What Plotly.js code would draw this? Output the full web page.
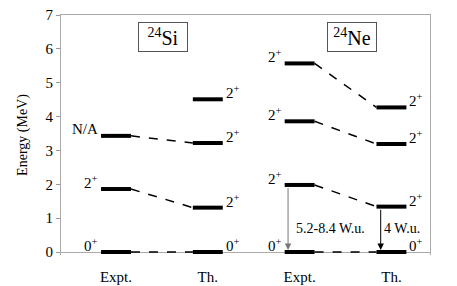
<!DOCTYPE html>
<html><head><meta charset="utf-8">
<script src="https://cdn.plot.ly/plotly-3.0.1.min.js"></script>
<style>body{margin:0;padding:0;background:#fff}#c{width:457px;height:286px}</style>
</head><body><div id="c"></div>
<script>
const columns = ['Expt.', 'Th.', 'Expt.', 'Th.'];
const nuclei = ['<sup>24</sup>Si', '<sup>24</sup>Ne'];
const siExpt = [0, 1.86, 3.43];
const siExptLabels = ['0<sup>+</sup>', '2<sup>+</sup>', 'N/A'];
const siTh = [0, 1.31, 3.22, 4.51];
const siThLabels = ['0<sup>+</sup>', '2<sup>+</sup>', '2<sup>+</sup>', '2<sup>+</sup>'];
const neExpt = [0, 1.98, 3.86, 5.57];
const neExptLabels = ['0<sup>+</sup>', '2<sup>+</sup>', '2<sup>+</sup>', '2<sup>+</sup>'];
const neTh = [0, 1.34, 3.19, 4.27];
const neThLabels = ['0<sup>+</sup>', '2<sup>+</sup>', '2<sup>+</sup>', '2<sup>+</sup>'];
const transitionLabels = ['5.2-8.4 W.u.', '4 W.u.'];

const font = '"Liberation Serif", "Times New Roman", serif';
const hw = 0.163;
const sets = [
  {pos: 1, e: siExpt, lab: siExptLabels, side: 'left'},
  {pos: 2, e: siTh, lab: siThLabels, side: 'right'},
  {pos: 3, e: neExpt, lab: neExptLabels, side: 'left'},
  {pos: 4, e: neTh, lab: neThLabels, side: 'right'}
];

const lx = [], ly = [];
const annotations = [];
sets.forEach(s => {
  s.e.forEach((v, i) => {
    lx.push(s.pos - hw, s.pos + hw, null); ly.push(v, v, null);
    annotations.push({
      x: s.side === 'left' ? s.pos - hw : s.pos + hw, y: v, xref: 'x', yref: 'y',
      text: s.lab[i], showarrow: false,
      xanchor: s.side === 'left' ? 'right' : 'left',
      xshift: s.side === 'left' ? -1 : 1, yshift: 7,
      font: {family: font, size: 15, color: '#000'}
    });
  });
});
// connectors
const cx = [], cy = [];
[[sets[0], sets[1]], [sets[2], sets[3]]].forEach(([a, b]) => {
  const n = Math.min(a.e.length, b.e.length);
  for (let i = 0; i < n; i++) {
    cx.push(a.pos + hw, b.pos - hw, null); cy.push(a.e[i], b.e[i], null);
  }
});

// transitions 2+ -> 0+ in 24Ne
const arrowX = [2.874, 3.883];
const arrowFrom = [neExpt[1], neTh[1]];
const arrowCol = ['#777', '#000'];
arrowX.forEach((x, i) => {
  annotations.push({x: x, y: 0.06, ax: x, ay: arrowFrom[i] - 0.05, xref: 'x', yref: 'y', axref: 'x', ayref: 'y',
    text: '', showarrow: true, arrowhead: 2, arrowsize: 1.3, arrowwidth: 1, arrowcolor: arrowCol[i]});
});
const tlX = [3.331, 4.11];
tlX.forEach((x, i) => {
  annotations.push({x: x, y: 0.68, xref: 'x', yref: 'y', text: transitionLabels[i], showarrow: false,
    font: {family: font, size: 14, color: '#000'}});
});
// nucleus boxes
const boxX = [1.507, 3.57];
nuclei.forEach((t, i) => {
  annotations.push({x: boxX[i], y: 6.36, xref: 'x', yref: 'y', text: t, showarrow: false, width: 42, height: 22,
    font: {family: font, size: 20, color: '#000'}, bordercolor: '#555', borderwidth: 1, borderpad: 3, bgcolor: '#fff'});
});

const yr = [-0.0886, 7];
const xr = [0.401, 4.42];
const traces = [
  {x: cx, y: cy, mode: 'lines', line: {color: '#000', width: 1.5, dash: 'dash'}, hoverinfo: 'skip', connectgaps: false},
  {x: lx, y: ly, mode: 'lines', line: {color: '#000', width: 4}, hoverinfo: 'skip', connectgaps: false},
  {x: [], y: [], xaxis: 'x2', yaxis: 'y', mode: 'lines', hoverinfo: 'skip'}
];

const layout = {
  width: 457, height: 286,
  margin: {l: 61, r: 27, t: 15, b: 31},
  paper_bgcolor: '#fff', plot_bgcolor: '#fff',
  showlegend: false,
  font: {family: font, color: '#000'},
  xaxis: {range: xr, tickvals: [1, 2, 3, 4], ticktext: columns, showgrid: false, zeroline: false,
    showline: false, ticks: '', ticklabelstandoff: 11,
    tickfont: {family: font, size: 15, color: '#000'}},
  xaxis2: {range: xr, overlaying: 'x', side: 'top', showline: true, linecolor: '#aaa', linewidth: 1,
    showticklabels: false, ticks: '', showgrid: false, zeroline: false},
  yaxis: {range: yr, tickvals: [0, 1, 2, 3, 4, 5, 6, 7], showgrid: false, zeroline: true, zerolinecolor: '#aaa', zerolinewidth: 1,
    showline: true, mirror: true,
    linecolor: '#aaa', linewidth: 1, ticks: 'outside', ticklen: 4, tickcolor: '#999',
    tickfont: {family: font, size: 15, color: '#000'},
    title: {text: 'Energy (MeV)', font: {family: font, size: 14, color: '#000'}, standoff: 14}},
  annotations: annotations
};
Plotly.newPlot('c', traces, layout, {staticPlot: true, displayModeBar: false});
</script></body></html>
